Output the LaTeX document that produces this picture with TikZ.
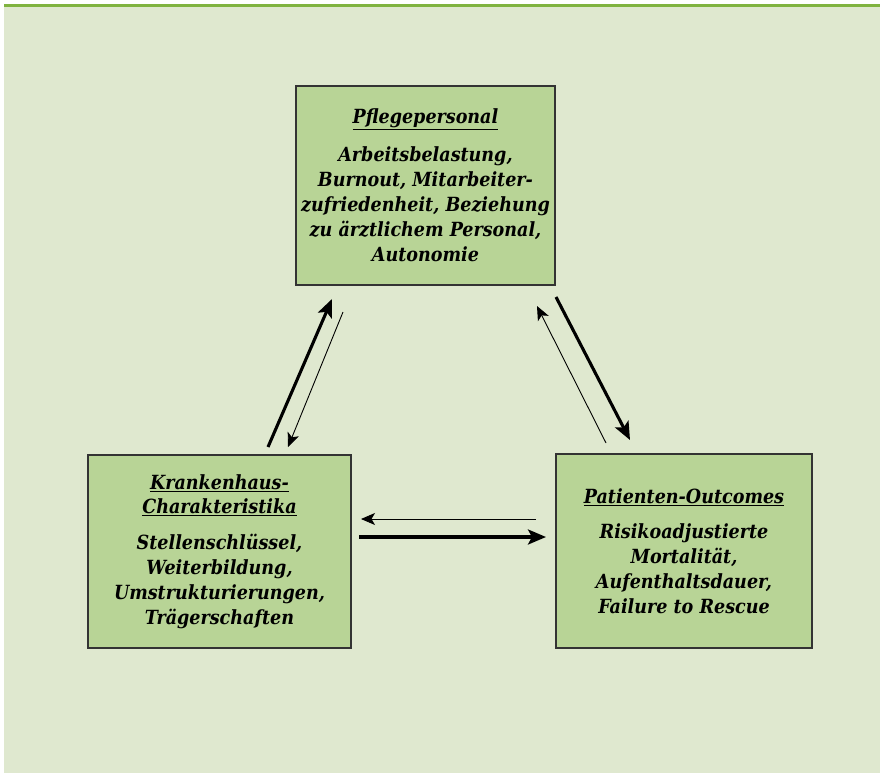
\documentclass[tikz,border=0pt]{standalone}
\usepackage{fontspec}
\setmainfont{DejaVu Serif Condensed}
\usetikzlibrary{arrows.meta}

\definecolor{hgrund}{HTML}{DFE8CF}
\definecolor{balken}{HTML}{80B340}
\definecolor{kasten}{HTML}{B8D496}

\tikzset{
  box/.style={draw=black!80, line width=1.4pt, fill=kasten, align=center,
    font=\fontsize{19.5}{25}\selectfont\bfseries\itshape},
  dick/.style={line width=3.1pt, -{Stealth[length=18pt,width=15pt,inset=4pt]}},
  duenn/.style={line width=0.9pt, -{Stealth[length=14pt,width=12pt,inset=3.5pt]}}
}

\begin{document}
\begin{tikzpicture}[x=1pt,y=-1pt]
    % hintergrund
    \useasboundingbox (0,0) rectangle (880,773);
    \fill[hgrund] (4,4) rectangle (880,773);
    \fill[balken] (4,4) rectangle (880,7.5);

    % die drei kaesten
    \node[box, minimum width=259pt, minimum height=199pt] (pflege) at (425.5,185.5)
      {\underline{Pflegepersonal}\\[13pt]
       Arbeitsbelastung,\\ Burnout, Mitarbeiter-\\ zufriedenheit, Beziehung\\
       zu ärztlichem Personal,\\ Autonomie};
    \node[box, minimum width=263pt, minimum height=193pt] (kranken) at (219.5,551.5)
      {\underline{Krankenhaus-}\\[-1pt] \underline{Charakteristika}\\[11pt]
       Stellenschlüssel,\\ Weiterbildung,\\ Umstrukturierungen,\\ Trägerschaften};
    \node[box, minimum width=256pt, minimum height=194pt] (patient) at (684,551)
      {\underline{Patienten-Outcomes}\\[10pt]
       Risikoadjustierte\\ Mortalität,\\ Aufenthaltsdauer,\\ Failure to Rescue};

    % pfeilenden
    \coordinate (kp1) at (268,447);
    \coordinate (kp2) at (332,299);
    \coordinate (pk1) at (343,312);
    \coordinate (pk2) at (288,447);
    \coordinate (po1) at (556,297);
    \coordinate (po2) at (630,440);
    \coordinate (op1) at (606,443);
    \coordinate (op2) at (537,306);
    \coordinate (ok1) at (536,519);
    \coordinate (ok2) at (361,519);
    \coordinate (ko1) at (359,537);
    \coordinate (ko2) at (546,537);

    % pfeile
    \draw[dick] (kp1) -- (kp2);
    \draw[duenn] (pk1) -- (pk2);
    \draw[dick] (po1) -- (po2);
    \draw[duenn] (op1) -- (op2);
    \draw[duenn] (ok1) -- (ok2);
    \draw[dick] (ko1) -- (ko2);
\end{tikzpicture}
\end{document}
